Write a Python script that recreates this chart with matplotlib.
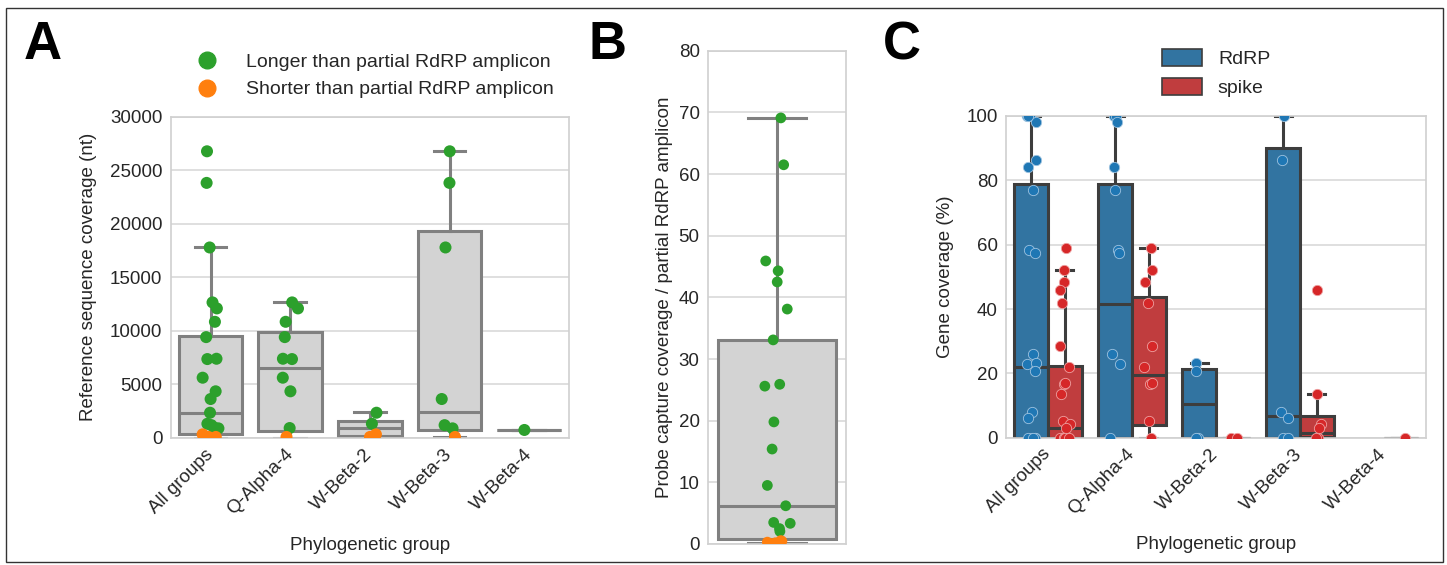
import matplotlib
matplotlib.use("Agg")
import matplotlib.pyplot as plt
import numpy as np
from matplotlib.lines import Line2D
from matplotlib.patches import Patch, Rectangle

plt.rcParams['font.family'] = ['Liberation Sans', 'DejaVu Sans']

# ---------------- data ----------------
groups = ["All groups", "Q-Alpha-4", "W-Beta-2", "W-Beta-3", "W-Beta-4"]

# Panel A: reference sequence coverage (nt)
longer_qa4 = [12660, 12100, 10850, 9420, 7370, 7400, 5630, 4360, 930]
longer_wb2 = [2360, 1330]
longer_wb3 = [26770, 23820, 17790, 3640, 1200, 900]
longer_wb4 = [750]
shorter_qa4 = [100]
shorter_wb2 = [340, 100]
shorter_wb3 = [100]
shorter_wb4 = []

boxA_q1 = [340, 650, 200, 750, 750]
boxA_med = [2360, 6500, 900, 2390, 750]
boxA_q3 = [9500, 9860, 1620, 19310, 750]
boxA_lo = [0, 0, 0, 100, 750]
boxA_hi = [17790, 12660, 2400, 26770, 750]

# Panel B: probe capture coverage / partial RdRP amplicon
longer_B = [69.1, 61.5, 45.9, 44.3, 42.5, 38.1, 33.1, 25.9, 25.6, 19.8,
            15.4, 9.5, 6.2, 3.5, 3.35, 2.5, 2.05]
shorter_B = [0.55, 0.45, 0.3, 0.2, 0.1]
boxB = dict(q1=0.8, med=6.2, q3=33.1, whislo=0.1, whishi=69.1)

# Panel C: gene coverage (%)
rdrp_qa4 = [100, 100, 98.2, 84.3, 77.0, 58.3, 57.5, 25.9, 23.0, 0]
rdrp_wb2 = [23.3, 20.7, 0, 0]
rdrp_wb3 = [100, 86.4, 7.9, 6.0, 0, 0]
rdrp_wb4 = []
spike_qa4 = [58.9, 52.0, 48.3, 42.0, 28.6, 22.1, 16.7, 17.0, 5.2, 0]
spike_wb2 = [0, 0]
spike_wb3 = [45.8, 13.6, 4.2, 3.1, 0, 0]
spike_wb4 = [0]

boxC_rdrp_q1 = [0, 0, 0, 0]
boxC_rdrp_med = [22.0, 41.5, 10.5, 6.9]
boxC_rdrp_q3 = [78.9, 79.0, 21.5, 90.0]
boxC_rdrp_lo = [0, 0, 0, 0]
boxC_rdrp_hi = [100, 100, 23.3, 100]
boxC_spike_q1 = [0, 3.9, 0, 0.3, 0]
boxC_spike_med = [2.9, 19.5, 0, 1.6, 0]
boxC_spike_q3 = [22.3, 43.7, 0, 6.7, 0]
boxC_spike_lo = [0, 0, 0, 0, 0]
boxC_spike_hi = [52.0, 58.9, 0, 13.6, 0]

# ---------------- figure ----------------
W, H = 1447, 565
fig = plt.figure(figsize=(W / 100, H / 100), dpi=100)
fig.patch.set_facecolor('white')

TXT = '#262626'
FS = 13.5


def ax_px(l, t, r, b):
    return fig.add_axes([l / W, 1 - b / H, (r - l) / W, (b - t) / H])


def style(ax):
    ax.set_facecolor('white')
    for s in ax.spines.values():
        s.set_color('#d0d0d0')
        s.set_linewidth(1.2)
    ax.grid(axis='y', color='#d9d9d9', lw=1.2)
    ax.set_axisbelow(True)
    ax.tick_params(length=0, labelsize=FS, labelcolor=TXT, pad=6)


def draw_boxes(ax, positions, q1, med, q3, lo, hi, width, face, edge, lw):
    stats = [dict(q1=a, med=m, q3=b, whislo=l, whishi=h, fliers=[])
             for a, m, b, l, h in zip(q1, med, q3, lo, hi)]
    ax.bxp(stats, positions=positions, widths=width, patch_artist=True,
           showfliers=False, manage_ticks=False, capwidths=width / 2,
           boxprops=dict(facecolor=face, edgecolor=edge, linewidth=lw),
           medianprops=dict(color=edge, linewidth=lw),
           whiskerprops=dict(color=edge, linewidth=lw),
           capprops=dict(color=edge, linewidth=lw), zorder=2)


rng = np.random.default_rng(7)


def strip(ax, x, vals, color, s, jit, ec='none', elw=0):
    if len(vals) == 0:
        return
    offs = rng.uniform(-jit, jit, len(vals))
    ax.scatter(np.full(len(vals), x) + offs, vals, s=s, color=color,
               edgecolors=ec, linewidths=elw, zorder=3)


def xlabels(ax):
    ax.set_xticks(range(5))
    ax.set_xticklabels(groups, rotation=45, ha='right', va='center',
                       rotation_mode='anchor')
    ax.tick_params(axis='x', pad=10)


# ---------- Panel A ----------
axA = ax_px(170.7, 116.7, 569, 438)
style(axA)
draw_boxes(axA, range(5), boxA_q1, boxA_med, boxA_q3, boxA_lo, boxA_hi,
           0.8, '#d3d3d3', '#808080', 2.2)
longerA = [longer_qa4 + longer_wb2 + longer_wb3 + longer_wb4,
           longer_qa4, longer_wb2, longer_wb3, longer_wb4]
shorterA = [shorter_qa4 + shorter_wb2 + shorter_wb3 + shorter_wb4,
            shorter_qa4, shorter_wb2, shorter_wb3, shorter_wb4]
for i in range(5):
    strip(axA, i, longerA[i], '#2ca02c', 75, 0.1)
for i in range(5):
    strip(axA, i, shorterA[i], '#ff7f0e', 75, 0.1)
axA.set_xlim(-0.5, 4.5)
axA.set_ylim(0, 30000)
axA.set_yticks(np.arange(0, 30001, 5000))
xlabels(axA)
axA.set_ylabel("Reference sequence coverage (nt)", fontsize=FS, color=TXT,
               labelpad=9)
axA.set_xlabel("Phylogenetic group", fontsize=FS, color=TXT, labelpad=13)
handlesA = [Line2D([], [], ls='none', marker='o', ms=12, color='#2ca02c'),
            Line2D([], [], ls='none', marker='o', ms=12, color='#ff7f0e')]
fig.legend(handlesA, ["Longer than partial RdRP amplicon",
                      "Shorter than partial RdRP amplicon"],
           loc='center', bbox_to_anchor=(371 / W, 1 - 76 / H), frameon=False,
           fontsize=14, handletextpad=1.0, labelspacing=0.5,
           labelcolor=TXT)

# ---------- Panel B ----------
axB = ax_px(708, 50.7, 846, 544)
style(axB)
draw_boxes(axB, [0], [boxB['q1']], [boxB['med']], [boxB['q3']],
           [boxB['whislo']], [boxB['whishi']], 0.85, '#d3d3d3', '#808080', 2.2)
strip(axB, 0, longer_B, '#2ca02c', 60, 0.1)
strip(axB, 0, shorter_B, '#ff7f0e', 60, 0.1)
axB.set_xlim(-0.5, 0.5)
axB.set_ylim(0, 80)
axB.set_yticks(np.arange(0, 81, 10))
axB.set_xticks([])
axB.set_ylabel("Probe capture coverage / partial RdRP amplicon",
               fontsize=FS, color=TXT)

# ---------- Panel C ----------
axC = ax_px(1006, 116, 1426, 437.7)
style(axC)
blue_box, red_box = '#3274a1', '#c03d3e'
draw_boxes(axC, [i - 0.2 for i in range(4)], boxC_rdrp_q1, boxC_rdrp_med,
           boxC_rdrp_q3, boxC_rdrp_lo, boxC_rdrp_hi, 0.4, blue_box,
           '#3d3d3d', 2.2)
draw_boxes(axC, [i + 0.2 for i in range(5)], boxC_spike_q1, boxC_spike_med,
           boxC_spike_q3, boxC_spike_lo, boxC_spike_hi, 0.4, red_box,
           '#3d3d3d', 2.2)
rdrpC = [rdrp_qa4 + rdrp_wb2 + rdrp_wb3 + rdrp_wb4,
         rdrp_qa4, rdrp_wb2, rdrp_wb3, rdrp_wb4]
spikeC = [spike_qa4 + spike_wb2 + spike_wb3 + spike_wb4,
          spike_qa4, spike_wb2, spike_wb3, spike_wb4]
for i in range(5):
    strip(axC, i - 0.2, rdrpC[i], '#1f77b4', 55, 0.06, ec='#9ec3e0', elw=0.6)
    strip(axC, i + 0.2, spikeC[i], '#d62728', 55, 0.06, ec='#eea0a0', elw=0.6)
axC.set_xlim(-0.5, 4.5)
axC.set_ylim(0, 100)
axC.set_yticks(np.arange(0, 101, 20))
xlabels(axC)
axC.set_ylabel("Gene coverage (%)", fontsize=FS, color=TXT, labelpad=9)
axC.set_xlabel("Phylogenetic group", fontsize=FS, color=TXT, labelpad=13)
handlesC = [Patch(facecolor=blue_box, edgecolor='#3d3d3d', lw=1.2),
            Patch(facecolor=red_box, edgecolor='#3d3d3d', lw=1.2)]
fig.legend(handlesC, ["RdRP", "spike"], loc='center',
           bbox_to_anchor=(1216 / W, 1 - 73 / H), frameon=False, fontsize=14,
           handlelength=2.06, handleheight=1.0, handletextpad=0.82,
           labelspacing=0.5, labelcolor=TXT)

# ---------- panel letters & frame ----------
for letter, x in [("A", 24), ("B", 588), ("C", 883)]:
    fig.text(x / W, 1 - 45 / H, letter, fontsize=38, fontweight='bold',
             va='center', ha='left', color='black')
fig.add_artist(Rectangle((6 / W, 1 - 562 / H), (1443 - 6) / W,
                         (562 - 8) / H, transform=fig.transFigure,
                         fill=False, edgecolor='#333333', lw=1.0))

fig.savefig("out.png", dpi=100)
